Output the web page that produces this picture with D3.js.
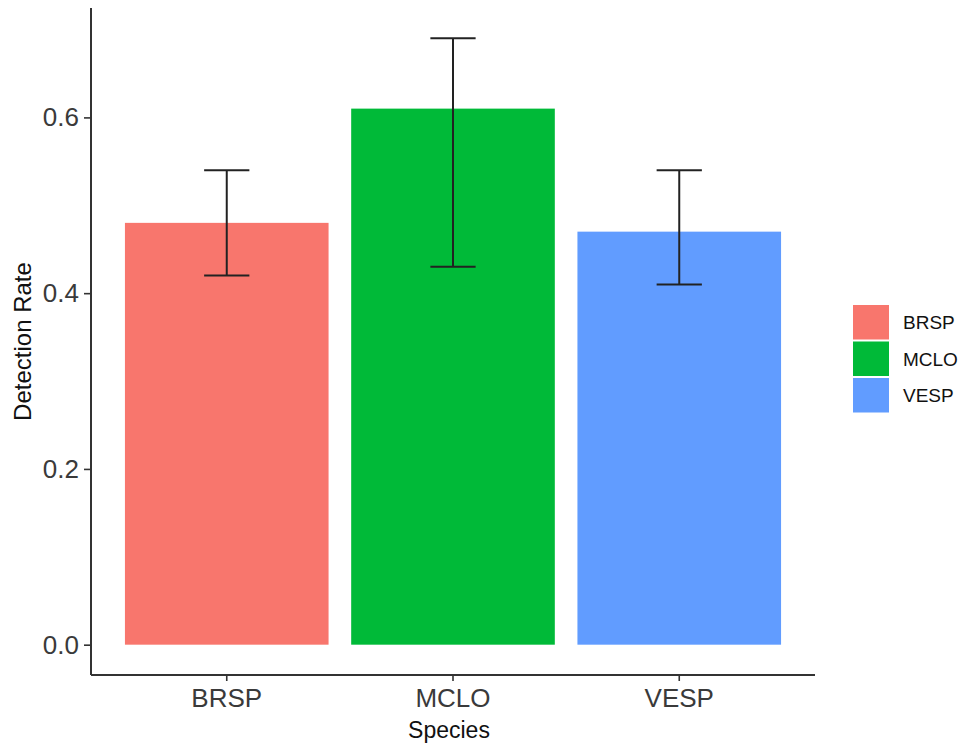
<!DOCTYPE html>
<html>
<head>
<meta charset="utf-8">
<script src="https://cdn.jsdelivr.net/npm/d3@7/dist/d3.min.js"></script>
<style>
  html, body { margin: 0; padding: 0; background: #fff; }
  svg { display: block; font-family: "Liberation Sans", Arial, sans-serif; }
</style>
</head>
<body>
<svg id="chart" width="965" height="746"></svg>
<script>
// Detection rate per species with error bars
const species = ["BRSP", "MCLO", "VESP"];
const detectionRate = [0.48, 0.61, 0.47];
const lowerBound = [0.42, 0.43, 0.41];
const upperBound = [0.54, 0.69, 0.54];
const yTicks = [0.0, 0.2, 0.4, 0.6];
const fillColors = ["#F8766D", "#00BA38", "#619CFF"];

const svg = d3.select("#chart");

const plot = { left: 91, right: 815, top: 8, bottom: 675 };

const x = d3.scaleBand()
  .domain(species)
  .range([plot.left, plot.right])
  .paddingInner(0.1)
  .paddingOuter(0.15);

// ggplot-style 5% expansion around the data range
const yMax = d3.max(upperBound);
const pad = yMax * 0.05;
const y = d3.scaleLinear()
  .domain([-pad, yMax + pad])
  .range([plot.bottom, plot.top]);

const color = d3.scaleOrdinal().domain(species).range(fillColors);

const rows = species.map((s, i) => ({
  s, v: detectionRate[i], lo: lowerBound[i], hi: upperBound[i]
}));

// bars
svg.append("g").selectAll("rect")
  .data(rows)
  .join("rect")
  .attr("x", d => x(d.s))
  .attr("width", x.bandwidth())
  .attr("y", d => y(d.v))
  .attr("height", d => y(0) - y(d.v))
  .attr("fill", d => color(d.s));

// error bars
const capW = x.step() * 0.2;
const eb = svg.append("g")
  .attr("stroke", "#222")
  .attr("stroke-width", 2)
  .attr("fill", "none");
rows.forEach(d => {
  const cx = x(d.s) + x.bandwidth() / 2;
  eb.append("line").attr("x1", cx).attr("x2", cx).attr("y1", y(d.hi)).attr("y2", y(d.lo));
  eb.append("line").attr("x1", cx - capW / 2).attr("x2", cx + capW / 2).attr("y1", y(d.hi)).attr("y2", y(d.hi));
  eb.append("line").attr("x1", cx - capW / 2).attr("x2", cx + capW / 2).attr("y1", y(d.lo)).attr("y2", y(d.lo));
});

// y axis
const yAxis = svg.append("g")
  .attr("transform", `translate(${plot.left},0)`)
  .call(d3.axisLeft(y).tickValues(yTicks).tickFormat(d3.format(".1f")).tickSize(7).tickPadding(5));
yAxis.select(".domain").attr("d", `M0,${plot.top}V${plot.bottom}`);

// x axis
const xAxis = svg.append("g")
  .attr("transform", `translate(0,${plot.bottom})`)
  .call(d3.axisBottom(x).tickSize(6).tickPadding(8));
xAxis.select(".domain").attr("d", `M${plot.left},0H${plot.right}`);

[yAxis, xAxis].forEach(g => {
  g.select(".domain").attr("stroke", "#333").attr("stroke-width", 2);
  g.selectAll(".tick line").attr("stroke", "#333").attr("stroke-width", 1.6);
  g.selectAll(".tick text")
    .attr("fill", "#3a3a3a")
    .style("font-size", "26px")
    .style("font-family", "'Liberation Sans', Arial, sans-serif");
});

// axis titles
svg.append("text")
  .attr("x", (plot.left + plot.right) / 2 - 4)
  .attr("y", 738)
  .attr("text-anchor", "middle")
  .style("font-size", "23px")
  .attr("fill", "#111")
  .text("Species");

svg.append("text")
  .attr("transform", `translate(31,${(plot.top + plot.bottom) / 2})rotate(-90)`)
  .attr("text-anchor", "middle")
  .style("font-size", "24px")
  .attr("fill", "#111")
  .text("Detection Rate");

// legend
const legend = svg.append("g").attr("transform", "translate(853,305)");
const rowH = 36.5;
species.forEach((s, i) => {
  legend.append("rect")
    .attr("x", 0).attr("y", i * rowH)
    .attr("width", 36).attr("height", 34.5)
    .attr("fill", color(s));
  legend.append("text")
    .attr("x", 50).attr("y", i * rowH + 17.5)
    .attr("dy", "0.35em")
    .style("font-size", "19px")
    .attr("fill", "#111")
    .text(s);
});
</script>
</body>
</html>
